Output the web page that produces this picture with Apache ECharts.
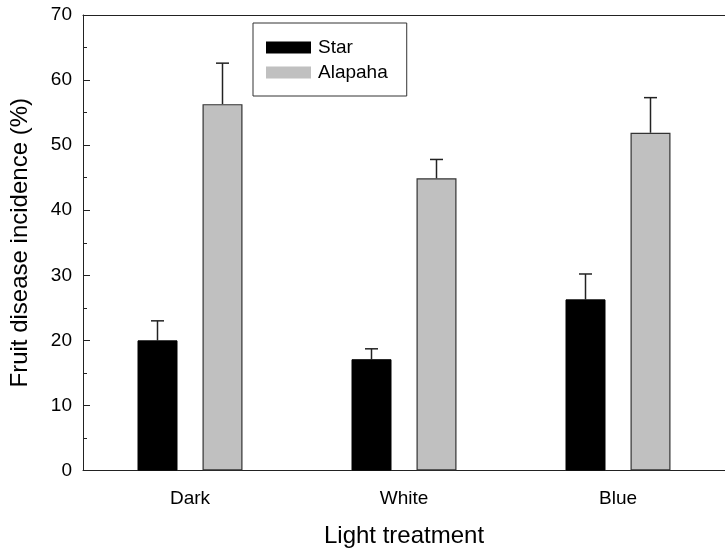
<!DOCTYPE html>
<html>
<head>
<meta charset="utf-8">
<script src="https://cdn.jsdelivr.net/npm/echarts@6/dist/echarts.min.js"></script>
<style>html,body{margin:0;padding:0;background:#fff;}#c{width:725px;height:556px;}</style>
</head>
<body>
<div id="c"></div>
<script>
var categories = ['Dark', 'White', 'Blue'];
var starValues = [20.0, 17.1, 26.3];
var starErrTop = [23.0, 18.7, 30.2];
var alapahaValues = [56.3, 44.9, 51.9];
var alapahaErrTop = [62.6, 47.8, 57.3];
var yTicks = [0, 10, 20, 30, 40, 50, 60, 70];

var FONT = 'Liberation Sans, Arial, sans-serif';
var AX = '#222';
var BARW = 40, GAP = 25;

function errSeries(name, tops, offset) {
  return {
    type: 'custom',
    name: name + ' err',
    data: tops.map(function (t, i) { return [i, t]; }),
    z: 1,
    silent: true,
    renderItem: function (params, api) {
      var i = api.value(0);
      var vals = name === 'Star' ? starValues : alapahaValues;
      var p0 = api.coord([i, vals[i]]);
      var p1 = api.coord([i, api.value(1)]);
      var x = p0[0] + offset;
      var st = { stroke: AX, lineWidth: 1.5 };
      return {
        type: 'group',
        children: [
          { type: 'line', shape: { x1: x, y1: p0[1], x2: x, y2: p1[1] }, style: st },
          { type: 'line', shape: { x1: x - 6.5, y1: p1[1], x2: x + 6.5, y2: p1[1] }, style: st }
        ]
      };
    }
  };
}

var chart = echarts.init(document.getElementById('c'), null, { renderer: 'canvas' });
chart.setOption({
  animation: false,
  backgroundColor: '#fff',
  grid: { left: 83, top: 15, bottom: 85.5, right: -8, containLabel: false },
  legend: {
    data: ['Star', 'Alapaha'],
    orient: 'vertical',
    left: 253, top: 23,
    padding: [15, 19, 14, 13],
    itemWidth: 45, itemHeight: 12, itemGap: 6,
    icon: 'rect',
    borderColor: '#333', borderWidth: 1,
    itemStyle: { borderWidth: 0 },
    textStyle: { fontFamily: FONT, fontSize: 19, color: '#000', lineHeight: 16, padding: [0, 0, 0, 2] }
  },
  xAxis: [{
    type: 'category',
    data: categories,
    boundaryGap: true,
    name: 'Light treatment',
    nameLocation: 'middle',
    nameGap: 54,
    nameTextStyle: { fontFamily: FONT, fontSize: 24, color: '#000' },
    axisLine: { lineStyle: { color: AX, width: 1 } },
    axisTick: { alignWithLabel: true, length: 7, lineStyle: { color: AX } },
    axisLabel: { fontFamily: FONT, fontSize: 19, color: '#000', margin: 19 }
  }, {
    type: 'category',
    data: categories,
    position: 'top',
    axisLine: { show: true, lineStyle: { color: AX, width: 1 } },
    axisTick: { show: false },
    axisLabel: { show: false }
  }],
  yAxis: {
    type: 'value',
    min: yTicks[0], max: yTicks[yTicks.length - 1], interval: 10,
    name: 'Fruit disease incidence (%)',
    nameLocation: 'middle',
    nameGap: 51,
    nameTextStyle: { fontFamily: FONT, fontSize: 24, color: '#000' },
    axisLine: { show: true, lineStyle: { color: AX, width: 1 } },
    axisTick: { show: true, inside: true, length: 7, lineStyle: { color: AX } },
    minorTick: { show: true, splitNumber: 2, length: 4, lineStyle: { color: AX } },
    splitLine: { show: false },
    axisLabel: { fontFamily: FONT, fontSize: 19, color: '#000', margin: 11 }
  },
  series: [{
    type: 'bar', name: 'Star', data: starValues,
    barWidth: BARW, barGap: (GAP / BARW * 100) + '%',
    itemStyle: { color: '#000', borderColor: '#000', borderWidth: 1 }, z: 2
  }, {
    type: 'bar', name: 'Alapaha', data: alapahaValues,
    barWidth: BARW,
    itemStyle: { color: '#c0c0c0', borderColor: '#333', borderWidth: 1.2 }, z: 2
  },
  errSeries('Star', starErrTop, -(BARW + GAP) / 2),
  errSeries('Alapaha', alapahaErrTop, (BARW + GAP) / 2)
  ]
});
</script>
</body>
</html>
